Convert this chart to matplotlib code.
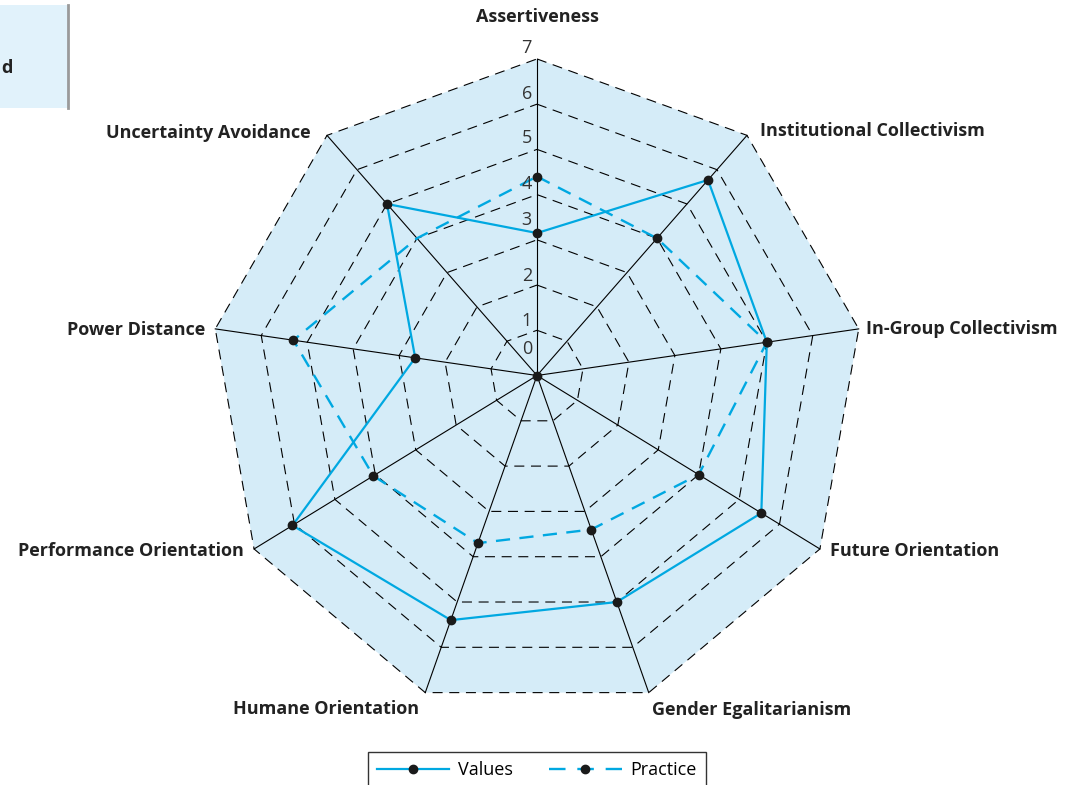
import numpy as np
import matplotlib.pyplot as plt
from matplotlib.lines import Line2D
from matplotlib.patches import Rectangle

plt.rcParams['font.family'] = ['Open Sans', 'DejaVu Sans']

dimensions = ["Assertiveness", "Institutional Collectivism", "In-Group Collectivism",
              "Future Orientation", "Gender Egalitarianism", "Humane Orientation",
              "Performance Orientation", "Power Distance", "Uncertainty Avoidance"]
values = [3.15, 5.7, 5.0, 5.55, 5.0, 5.4, 6.05, 2.65, 5.0]
practice = [4.4, 4.0, 5.0, 4.0, 3.4, 3.7, 4.05, 5.3, 4.0]
scale_ticks = [0, 1, 2, 3, 4, 5, 6, 7]

BLUE = '#00a8e1'
FILL = '#d5ecf8'
DOT = '#1a1a1a'
PX = 46.67          # pixels per scale unit
LIFT = 0.031        # the hub in the source sits a little above the polygon centre
angles = np.deg2rad(90 - 40 * np.arange(len(dimensions)))


def to_xy(r):
    r = np.asarray(r, float)
    return r * np.cos(angles), r * (np.sin(angles) - LIFT)


def closed(a):
    return np.append(a, a[0])


fig = plt.figure(figsize=(10.75, 7.85), dpi=100)
ax = fig.add_axes([0, 0, 1, 1])
ax.set_xlim(-537 / PX, 538 / PX)
ax.set_ylim(-409.5 / PX, 375.5 / PX)
ax.axis('off')

# background polygon and grid
top = scale_ticks[-1]
ox, oy = to_xy(np.full(len(dimensions), top))
ax.fill(ox, oy, color=FILL, zorder=0, lw=0)
for v in scale_ticks[1:]:
    gx, gy = to_xy(np.full(len(dimensions), v))
    ax.plot(closed(gx), closed(gy), color='k', lw=0.8, ls=(0, (9, 6)), zorder=1)
for k in range(len(dimensions)):
    ax.plot([0, ox[k]], [0, oy[k]], color='k', lw=0.8, zorder=1)

# data
vx, vy = to_xy(values)
px_, py_ = to_xy(practice)
ax.plot(closed(vx), closed(vy), color=BLUE, lw=1.6, zorder=3)
ax.plot(closed(px_), closed(py_), color=BLUE, lw=1.7, ls=(0, (6, 4)), zorder=3)
ax.plot(vx, vy, 'o', color=DOT, ms=6, zorder=4)
ax.plot(px_[:-1], py_[:-1], 'o', color=DOT, ms=6, zorder=4)
ax.plot(0, 0, 'o', color=DOT, ms=6, zorder=4)

# dimension labels (offsets in pixels, ha)
label_pos = [((0, 42), 'center'), ((13, 4), 'left'), ((7, 0), 'left'),
             ((10, -2), 'left'), ((3, -17), 'left'), ((-6, -16), 'right'),
             ((-10, -2), 'right'), ((-10, -1), 'right'), ((-16, 2), 'right')]
for k, name in enumerate(dimensions):
    (dx, dy), ha = label_pos[k]
    ax.annotate(name, (ox[k], oy[k]), xytext=(dx * 0.72, dy * 0.72),
                textcoords='offset points', ha=ha, va='center',
                fontsize=13, fontweight='bold', color='#222222')

# scale numbers on the top spoke
tick_lift = [26, 9, 9, 20, 11, 11, 10.5, 10.5]
for v, off in zip(scale_ticks, tick_lift):
    ax.annotate(str(v), (0, v * (1 - LIFT)), xytext=(-5 * 0.72, off * 0.72),
                textcoords='offset points', ha='right', va='center',
                fontsize=13, color='#333333')

# cropped header box at top left
fig.patches.append(Rectangle((0, 1 - 108 / 785), 68 / 1075, 103 / 785,
                             transform=fig.transFigure, facecolor='#e1f2fb',
                             edgecolor='none'))
fig.lines.append(Line2D([68 / 1075, 68 / 1075], [1 - 5 / 785, 1 - 108 / 785],
                        transform=fig.transFigure, color='#9a9a9a', lw=2))
fig.text(1 / 1075, 1 - 68 / 785, 'd', fontsize=13, fontweight='bold',
         va='center', ha='left', color='#222222')

handles = [Line2D([], [], color=BLUE, lw=1.6, marker='o', mfc=DOT, mec=DOT, ms=6),
           Line2D([], [], color=BLUE, lw=1.7, ls=(0, (7, 5)), marker='o',
                  mfc=DOT, mec=DOT, ms=6)]
leg = fig.legend(handles, ['Values', 'Practice'], loc='upper center',
                 bbox_to_anchor=(537 / 1075, 1 - 752 / 785), ncol=2,
                 fancybox=False, edgecolor='#333333', fontsize=13,
                 handlelength=4.0, columnspacing=2.0, borderaxespad=0,
                 handletextpad=0.5, framealpha=1, borderpad=0.5)
leg.get_frame().set_linewidth(1.0)

plt.savefig('out.png', dpi=100)
